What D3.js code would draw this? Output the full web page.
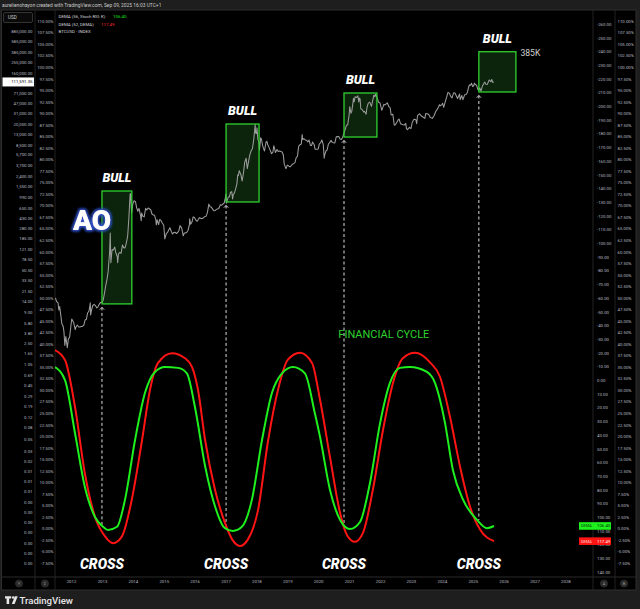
<!DOCTYPE html>
<html><head><meta charset="utf-8">
<script src="https://cdn.jsdelivr.net/npm/d3@7"></script>
<style>
html,body{margin:0;padding:0;background:#1e1e1e;}
svg{display:block;font-family:Roboto,"Liberation Sans",sans-serif;}
</style></head><body>
<svg id="c" width="640" height="609"></svg>
<script>
// ---------------- DATA ----------------
const btc = [
["2011-07-01",16.1],["2011-07-15",13.8],["2011-08-01",13.1],["2011-08-10",9.8],["2011-08-20",11.3],["2011-09-01",8.2],["2011-09-15",5.6],["2011-10-01",5.0],["2011-10-10",4.0],["2011-10-20",2.3],["2011-11-01",3.3],["2011-11-18",2.1],["2011-12-01",3.0],["2011-12-15",3.2],
["2012-01-01",5.3],["2012-01-10",6.8],["2012-02-01",5.9],["2012-02-20",4.4],["2012-03-01",4.9],["2012-03-15",5.3],["2012-04-01",4.9],["2012-04-15",4.9],["2012-05-01",5.0],["2012-05-15",5.0],["2012-06-01",5.3],["2012-06-15",6.5],["2012-07-01",6.7],["2012-07-15",8.7],["2012-08-01",9.4],["2012-08-16",13.2],["2012-08-20",8.0],["2012-09-01",10.1],["2012-09-15",11.8],["2012-10-01",12.4],["2012-10-15",11.8],["2012-11-01",10.7],["2012-11-15",11.2],["2012-12-01",12.5],["2012-12-15",13.4],
["2013-01-01",13.3],["2013-01-15",14.5],["2013-02-01",20],["2013-02-15",27],["2013-03-01",34],["2013-03-15",47],["2013-04-01",104],["2013-04-09",230],["2013-04-16",68],["2013-05-01",117],["2013-05-15",114],["2013-06-01",129],["2013-06-15",100],["2013-07-01",88],["2013-07-06",68],["2013-07-15",98],["2013-08-01",104],["2013-08-15",100],["2013-09-01",141],["2013-09-15",126],["2013-10-01",125],["2013-10-15",150],["2013-11-01",205],["2013-11-15",420],["2013-11-30",1130],["2013-12-05",1150],["2013-12-18",520],["2013-12-31",750],
["2014-01-15",860],["2014-02-01",830],["2014-02-15",650],["2014-03-01",560],["2014-03-15",630],["2014-04-01",480],["2014-04-10",380],["2014-04-15",520],["2014-05-01",450],["2014-05-15",445],["2014-06-01",630],["2014-06-15",590],["2014-07-01",640],["2014-07-15",620],["2014-08-01",590],["2014-08-15",500],["2014-09-01",480],["2014-09-15",475],["2014-10-01",385],["2014-10-05",320],["2014-10-15",395],["2014-11-01",325],["2014-11-15",400],["2014-12-01",380],["2014-12-15",345],
["2015-01-01",315],["2015-01-14",180],["2015-02-01",225],["2015-02-15",235],["2015-03-01",260],["2015-03-15",285],["2015-04-01",245],["2015-04-15",220],["2015-05-01",235],["2015-05-15",237],["2015-06-01",225],["2015-06-15",235],["2015-07-01",258],["2015-07-12",310],["2015-08-01",283],["2015-08-20",205],["2015-09-01",229],["2015-09-15",230],["2015-10-01",237],["2015-10-15",255],["2015-11-01",325],["2015-11-04",410],["2015-11-15",330],["2015-12-01",360],["2015-12-15",445],
["2016-01-01",430],["2016-01-15",390],["2016-02-01",372],["2016-02-15",405],["2016-03-01",432],["2016-03-15",415],["2016-04-01",417],["2016-04-15",430],["2016-05-01",450],["2016-05-15",455],["2016-06-01",535],["2016-06-17",750],["2016-07-01",675],["2016-07-15",665],["2016-08-01",610],["2016-08-15",570],["2016-09-01",575],["2016-09-15",608],["2016-10-01",615],["2016-10-15",640],["2016-11-01",730],["2016-11-15",715],["2016-12-01",755],["2016-12-15",780],
["2017-01-01",1000],["2017-01-05",1130],["2017-01-11",780],["2017-02-01",990],["2017-02-15",1010],["2017-03-01",1220],["2017-03-15",1250],["2017-03-25",930],["2017-04-01",1090],["2017-04-15",1180],["2017-05-01",1420],["2017-05-15",1720],["2017-05-25",2500],["2017-06-01",2400],["2017-06-12",2950],["2017-07-01",2500],["2017-07-16",1930],["2017-08-01",2730],["2017-08-15",4150],["2017-09-01",4900],["2017-09-15",3200],["2017-10-01",4400],["2017-10-15",5700],["2017-11-01",6750],["2017-11-15",7300],["2017-12-01",10900],["2017-12-17",19500],["2017-12-22",13800],
["2018-01-01",13500],["2018-01-07",17000],["2018-01-17",11000],["2018-02-01",9100],["2018-02-06",6900],["2018-02-20",11300],["2018-03-01",10800],["2018-03-15",8250],["2018-04-01",6900],["2018-04-06",6600],["2018-04-25",9600],["2018-05-05",9800],["2018-05-15",8500],["2018-06-01",7500],["2018-06-29",5900],["2018-07-15",6300],["2018-07-25",8200],["2018-08-01",7600],["2018-08-14",6200],["2018-09-01",7000],["2018-09-15",6500],["2018-10-01",6600],["2018-10-15",6450],["2018-11-01",6350],["2018-11-15",5600],["2018-11-25",3900],["2018-12-15",3200],
["2019-01-01",3700],["2019-01-15",3600],["2019-02-01",3450],["2019-02-15",3600],["2019-03-01",3830],["2019-03-15",3930],["2019-04-01",4100],["2019-04-15",5000],["2019-05-01",5350],["2019-05-15",8000],["2019-06-01",8550],["2019-06-15",8800],["2019-06-26",12900],["2019-07-01",10500],["2019-07-15",11000],["2019-08-01",10400],["2019-08-15",10300],["2019-09-01",9600],["2019-09-15",10300],["2019-10-01",8300],["2019-10-15",8300],["2019-10-26",9550],["2019-11-15",8500],["2019-11-25",7100],["2019-12-15",7100],
["2020-01-01",7200],["2020-01-15",8800],["2020-02-01",9400],["2020-02-13",10350],["2020-03-01",8600],["2020-03-12",4900],["2020-03-15",5400],["2020-04-01",6600],["2020-04-15",6850],["2020-05-01",8800],["2020-05-15",9300],["2020-06-01",10200],["2020-06-15",9400],["2020-07-01",9230],["2020-07-15",9150],["2020-08-01",11800],["2020-08-15",11900],["2020-09-01",11900],["2020-09-15",10800],["2020-10-01",10600],["2020-10-15",11500],["2020-11-01",13800],["2020-11-15",16000],["2020-12-01",19000],["2020-12-15",19400],
["2021-01-01",29000],["2021-01-08",40500],["2021-01-22",31000],["2021-02-01",33500],["2021-02-15",48000],["2021-02-21",57000],["2021-03-01",49500],["2021-03-13",61000],["2021-04-01",59000],["2021-04-14",63500],["2021-04-25",49000],["2021-05-01",57800],["2021-05-10",56000],["2021-05-19",37000],["2021-06-01",36500],["2021-06-22",32500],["2021-07-01",33500],["2021-07-20",29800],["2021-08-01",40000],["2021-08-15",47000],["2021-09-01",48800],["2021-09-21",41000],["2021-10-01",48000],["2021-10-20",65000],["2021-11-01",61000],["2021-11-10",67500],["2021-12-01",57000],["2021-12-15",48500],
["2022-01-01",47000],["2022-01-22",35000],["2022-02-01",38500],["2022-02-15",44500],["2022-03-01",43500],["2022-03-28",47500],["2022-04-15",40500],["2022-05-01",38500],["2022-05-12",28800],["2022-06-01",29800],["2022-06-18",19000],["2022-07-01",19300],["2022-07-15",21000],["2022-08-01",23300],["2022-08-14",24500],["2022-09-01",20100],["2022-09-15",19700],["2022-10-01",19300],["2022-10-15",19100],["2022-11-01",20500],["2022-11-09",16500],["2022-11-21",15800],["2022-12-15",17400],
["2023-01-01",16550],["2023-01-15",20900],["2023-02-01",23700],["2023-02-15",24300],["2023-03-01",23600],["2023-03-10",20200],["2023-03-20",28000],["2023-04-14",30400],["2023-05-01",28000],["2023-05-15",27100],["2023-06-15",25100],["2023-06-25",30500],["2023-07-15",30300],["2023-08-01",29200],["2023-08-18",26100],["2023-09-11",25100],["2023-10-01",27900],["2023-10-24",34000],["2023-11-15",37800],["2023-12-05",44000],["2023-12-15",42000],
["2024-01-01",44200],["2024-01-11",46600],["2024-01-23",39500],["2024-02-15",51800],["2024-03-01",62000],["2024-03-14",73000],["2024-04-01",69700],["2024-04-17",61300],["2024-05-01",58000],["2024-05-20",71400],["2024-06-05",71000],["2024-07-05",56500],["2024-07-29",68200],["2024-08-05",54000],["2024-08-24",64100],["2024-09-06",53900],["2024-09-27",65800],["2024-10-15",67000],["2024-10-29",72300],["2024-11-13",90000],["2024-11-22",98500],["2024-12-05",98000],["2024-12-17",106000],["2024-12-30",92600],
["2025-01-10",94500],["2025-01-21",106000],["2025-02-01",100500],["2025-02-15",97500],["2025-02-28",84300],["2025-03-10",78500],["2025-03-25",87500],["2025-04-08",76500],["2025-04-25",94500],["2025-05-22",111000],["2025-06-05",101500],["2025-06-22",100900],["2025-07-14",121000],["2025-08-03",112500],["2025-08-13",123500],["2025-08-25",110000],["2025-09-09",111591.35]
];

// DEMA (56, Stoch RSI; K)  – green
const demaStoch = [
["2011-06-25",-9.6],["2011-10-22",0],["2012-02-17",38.5],["2012-06-13",78],["2012-10-12",100],["2013-01-14",107],["2013-03-13",109.3],["2013-06-28",107],["2013-10-01",87],
["2014-01-26",44],["2014-05-24",9.4],["2014-09-20",-6],["2015-01-16",-9.6],["2015-06-18",-9],["2015-10-02",-5],["2016-01-05",19.6],["2016-05-05",63],["2016-08-29",92],["2016-12-24",108],
["2017-03-29",110],["2017-07-13",107],["2017-11-09",87],["2018-03-07",44],["2018-07-03",9.4],["2018-10-30",-5],["2019-03-08",-9.6],["2019-07-28",-5],["2019-11-22",24],
["2020-01-23",41.5],["2020-05-19",80],["2020-09-16",102],["2021-01-11",108.6],["2021-05-09",103.5],["2021-09-04",75],["2022-01-01",31.5],["2022-04-28",2],["2022-08-24",-9],["2022-12-20",-9.6],
["2023-07-09",-6],["2023-10-12",2],["2024-02-07",31],["2024-05-11",65.5],["2024-09-07",87],["2025-02-20",102],["2025-06-17",108],["2025-09-09",106.4]
];
// DEMA (52, DEMA) – red
const demaDema = [
["2011-06-25",-22],["2011-10-22",-14.7],["2012-02-17",19.4],["2012-06-13",68],["2012-10-12",100],["2013-02-06",114],["2013-05-12",119],["2013-08-25",114],["2013-12-20",87],
["2014-04-19",44],["2014-07-23",7],["2014-10-26",-12.6],["2015-04-09",-19.7],["2015-09-09",-16],["2015-12-02",-9.6],["2016-02-10",7],["2016-05-05",44],["2016-08-29",80],["2016-12-24",104],
["2017-03-18",116],["2017-06-21",121],["2017-09-24",116],["2018-01-19",95],["2018-05-19",44],["2018-09-13",7],["2019-01-08",-15],["2019-05-30",-20],["2019-10-20",-12.6],
["2020-01-23",14.5],["2020-05-19",56],["2020-09-16",97],["2020-12-05",113],["2021-03-10",118],["2021-06-13",111.5],["2021-10-08",80],["2022-02-06",36],["2022-06-03",2],["2022-09-27",-16],
["2023-02-17",-20],["2023-08-15",-13],["2023-12-10",-2.5],["2024-04-08",27],["2024-08-03",63],["2024-11-28",92],["2025-03-28",109],["2025-09-09",117.49]
];

// Bull boxes (dates & price bounds) and the cross levels of the oscillators
const bullStart = ["2013-01-01","2017-01-07","2020-11-01","2025-03-14"];
const bullEnd   = ["2013-12-20","2018-02-01","2021-11-25","2026-05-26"];
const bullLow   = [12.6, 819, 11700, 74000];
const bullHigh  = [1283, 19950, 71000, 385000];
const crossLevel = [106, 107, 106, 102];

// Tick labels
const priceTickValues = [885000,585000,385000,255000,160000,71000,47000,31000,20000,13000,8500,5700,3700,2400,1550,990,650,430,280,185,121,78.5,50.5,33.5,21.5,14,9,5.8,3.8,2.5,1.65,1.05,0.69,0.45,0.29,0.19,0.12,0.08,0.05,0.03,0.02,0.0135,0.0089,0.0058,0.0038,0.0025,0.00165,0.00108,0.00071,0.00047,0.00031];
const pctTicks = d3.range(110, -7.6, -2.5);
const oscTicks = d3.range(-260, 141, 10);
const yearTicks = d3.range(2012, 2029);

const lastPrice = 111591.35;
const lastStoch = 106.40, lastDema = 117.49;

// ---------------- LAYOUT ----------------
const W = 640, H = 609;
const P = {top:10, bottom:590, axisRow:577, l1:35, l2:55, r1:593, r2:615, right:636};
const parse = d3.timeParse("%Y-%m-%d");
const svg = d3.select("#c");

const x = d3.scaleTime().domain([new Date(2012,0,1), new Date(2028,0,1)]).range([71, 565.4]);
const yPrice = d3.scaleLog().domain([71000, 0.29]).range([93, 396]);
const yOsc = d3.scaleLinear().domain([-260, 140]).range([24, 572]);
const yPct = d3.scaleLinear().domain([-7.5, 110]).range([563, 21]);

const defs = svg.append("defs");
defs.append("clipPath").attr("id","clip").append("rect")
  .attr("x",P.l2).attr("y",P.top).attr("width",P.r1-P.l2).attr("height",P.axisRow-P.top);
const glow = defs.append("filter").attr("id","glow").attr("x","-50%").attr("y","-50%").attr("width","200%").attr("height","200%");
glow.append("feMorphology").attr("in","SourceAlpha").attr("operator","dilate").attr("radius",1.2).attr("result","d");
glow.append("feGaussianBlur").attr("in","d").attr("stdDeviation",1.8).attr("result","b");
glow.append("feFlood").attr("flood-color","#2f4fc0");
glow.append("feComposite").attr("in2","b").attr("operator","in").attr("result","g");
const fm = glow.append("feMerge");
fm.append("feMergeNode").attr("in","g");
fm.append("feMergeNode").attr("in","g");
fm.append("feMergeNode").attr("in","SourceGraphic");

// background + panel
svg.append("rect").attr("width",W).attr("height",H).attr("fill","#1e1e1e");
svg.append("rect").attr("x",1.5).attr("y",P.top).attr("width",P.right-1.5).attr("height",P.bottom-P.top)
  .attr("fill","#000").attr("stroke","#2e2e2e").attr("stroke-width",1);
[P.l1, P.l2, P.r1, P.r2].forEach(v => svg.append("line").attr("x1",v).attr("x2",v)
  .attr("y1",P.top).attr("y2",P.bottom).attr("stroke","#222"));
svg.append("line").attr("x1",1.5).attr("x2",P.right).attr("y1",P.axisRow).attr("y2",P.axisRow).attr("stroke","#2a2a2a");

// header
svg.append("text").attr("x",2).attr("y",6.8).attr("font-size",4.9).attr("fill","#c9c9c9")
  .text("aurelienohayon created with TradingView.com, Sep 09, 2025 16:03 UTC+1");

const axisColor = "#b8bbc3", fs = 4.3;
function styleAxis(g){ g.select(".domain").remove(); g.selectAll("text").attr("font-size",fs).attr("fill",axisColor).attr("font-family","Roboto,sans-serif"); }

// left price axis
const fmtPrice = d => d.toLocaleString("en-US",{minimumFractionDigits:2, maximumFractionDigits:2});
svg.append("g").attr("transform",`translate(32.5,0)`)
  .call(d3.axisLeft(yPrice).tickValues(priceTickValues).tickFormat(fmtPrice).tickSize(0).tickPadding(0))
  .call(styleAxis);
// left percent axis
svg.append("g").attr("transform",`translate(53.5,0)`)
  .call(d3.axisLeft(yPct).tickValues(pctTicks).tickFormat(d => d.toFixed(2)+"%").tickSize(0).tickPadding(0))
  .call(styleAxis);
// right oscillator axis
svg.append("g").attr("transform",`translate(597,0)`)
  .call(d3.axisRight(yOsc).tickValues(oscTicks).tickFormat(d => d.toFixed(2)).tickSize(0).tickPadding(0))
  .call(styleAxis);
// right percent axis
svg.append("g").attr("transform",`translate(617.5,0)`)
  .call(d3.axisRight(yPct).tickValues(pctTicks).tickFormat(d => d.toFixed(2)+"%").tickSize(0).tickPadding(0))
  .call(styleAxis);
// x axis
svg.append("g").attr("transform",`translate(0,${P.axisRow+2.5})`)
  .call(d3.axisBottom(x).tickValues(yearTicks.map(y => new Date(y,0,1))).tickFormat(d3.timeFormat("%Y")).tickSize(0).tickPadding(0))
  .call(styleAxis);

// USD box
svg.append("rect").attr("x",3.5).attr("y",12.5).attr("width",29).attr("height",10).attr("rx",1.5)
  .attr("fill","#0a0a0a").attr("stroke","#333");
svg.append("text").attr("x",8).attr("y",19.2).attr("font-size",4.6).attr("fill","#d0d0d0").text("USD");

// bottom icons
[[19,"Y"],[45,"Σ"],[604,"A"],[624,"B"]].forEach(([cx,t]) => {
  svg.append("circle").attr("cx",cx).attr("cy",583.5).attr("r",3.6).attr("fill","#2a2a2a").attr("stroke","#3a3a3a").attr("stroke-width",0.5);
  svg.append("text").attr("x",cx).attr("y",585).attr("font-size",4).attr("text-anchor","middle").attr("fill","#9a9a9a").text(t);
});

// ---------------- CHART ----------------
const plot = svg.append("g").attr("clip-path","url(#clip)");
const priceData = btc.map(d => ({date: parse(d[0]), v: d[1]}));
const boxes = bullStart.map((s,i) => ({s: parse(s), e: parse(bullEnd[i]), lo: bullLow[i], hi: bullHigh[i], cross: crossLevel[i]}));

// box fills
plot.selectAll("rect.boxfill").data(boxes).join("rect").attr("class","boxfill")
  .attr("x", d => x(d.s)).attr("width", d => x(d.e)-x(d.s))
  .attr("y", d => yPrice(d.hi)).attr("height", d => yPrice(d.lo)-yPrice(d.hi))
  .attr("fill","#0d2a0d").attr("opacity",0.85);

// price line
plot.append("path").datum(priceData)
  .attr("d", d3.line().x(d => x(d.date)).y(d => yPrice(d.v)))
  .attr("fill","none").attr("stroke","#9c9c9c").attr("stroke-width",1.05).attr("stroke-linejoin","round");

// box strokes
plot.selectAll("rect.boxline").data(boxes).join("rect").attr("class","boxline")
  .attr("x", d => x(d.s)).attr("width", d => x(d.e)-x(d.s))
  .attr("y", d => yPrice(d.hi)).attr("height", d => yPrice(d.lo)-yPrice(d.hi))
  .attr("fill","none").attr("stroke","#2fd22f").attr("stroke-width",1.3);

// dashed verticals with arrow heads
boxes.forEach(d => {
  const xx = x(d.s), y0 = yPrice(d.lo) + 3.5, y1 = yOsc(d.cross);
  plot.append("line").attr("x1",xx).attr("x2",xx).attr("y1",y0).attr("y2",y1)
    .attr("stroke","#dcdcdc").attr("stroke-width",1).attr("stroke-dasharray","3,2.5");
  plot.append("path").attr("d",`M${xx-2.2},${y0+2.2}L${xx},${y0}L${xx+2.2},${y0+2.2}`)
    .attr("fill","none").attr("stroke","#e0e0e0").attr("stroke-width",0.9);
});

// oscillators
const oscLine = d3.line().x(d => x(parse(d[0]))).y(d => yOsc(d[1])).curve(d3.curveMonotoneX);
plot.append("path").datum(demaDema).attr("d",oscLine).attr("fill","none").attr("stroke","#ff1414").attr("stroke-width",2);
plot.append("path").datum(demaStoch).attr("d",oscLine).attr("fill","none").attr("stroke","#1ef01e").attr("stroke-width",2);

// annotations
const bold = sel => sel.attr("font-family","Roboto,'Open Sans',sans-serif").attr("font-weight",900).attr("font-style","italic").attr("fill","#fff").attr("text-anchor","middle");
svg.selectAll("text.bull").data(boxes).join("text").attr("class","bull")
  .attr("x", d => (x(d.s)+x(d.e))/2).attr("y", d => yPrice(d.hi)-9)
  .attr("font-size",12.5).call(bold).text("BULL");
svg.selectAll("text.cross").data(boxes).join("text").attr("class","cross")
  .attr("x", d => x(d.s)).attr("y", 568.5)
  .attr("font-size",14).call(bold).text("CROSS");

svg.append("text").attr("x", x(boxes[3].e)+4.5).attr("y", yPrice(bullHigh[3])+4)
  .attr("font-size",8.6).attr("fill","#d0d0d0").text("385K");

svg.append("text").attr("x", x(new Date(2022,1,15))).attr("y", yOsc(-33.7)+3.8)
  .attr("font-size",11).attr("fill","#2fd22f").attr("text-anchor","middle").text("FINANCIAL CYCLE");

svg.append("text").attr("x",92).attr("y",230).attr("font-size",28).attr("font-weight",900)
  .attr("font-family","Roboto,sans-serif").attr("fill","#fff").attr("text-anchor","middle")
  .attr("filter","url(#glow)").text("AO");

// legend
const lg = svg.append("g").attr("font-size",4.4).attr("fill","#d1d4dc");
lg.append("text").attr("x",58.5).attr("y",18).text("DEMA (56, Stoch RSI; K)");
lg.append("text").attr("x",113).attr("y",18).attr("fill","#1ee01e").text(lastStoch.toFixed(2));
lg.append("text").attr("x",58.5).attr("y",25.7).text("DEMA (52, DEMA)");
lg.append("text").attr("x",101).attr("y",25.7).attr("fill","#ff2a2a").text(lastDema.toFixed(2));
lg.append("text").attr("x",58.5).attr("y",32.8).text("BTCUSD · INDEX");

// last price tag (left)
svg.append("rect").attr("x",2.5).attr("y",yPrice(lastPrice)-4.5).attr("width",31.5).attr("height",9).attr("fill","#fff");
svg.append("text").attr("x",32.5).attr("y",yPrice(lastPrice)+1.5).attr("font-size",fs).attr("text-anchor","end").attr("fill","#000").text(fmtPrice(lastPrice));

// oscillator tags (right)
[[lastStoch,"#1ef01e","#0b3a0b"],[lastDema,"#ff1414","#ffd0d0"]].forEach(([v,c,tc]) => {
  const yy = yOsc(v);
  svg.append("rect").attr("x",579).attr("y",yy-3.8).attr("width",32).attr("height",7.6).attr("fill",c);
  svg.append("text").attr("x",581).attr("y",yy+1.4).attr("font-size",3.9).attr("fill",tc).text("DEMA");
  svg.append("text").attr("x",597).attr("y",yy+1.4).attr("font-size",fs).attr("fill",v===lastStoch?"#062806":"#fff").text(v.toFixed(2));
});

// footer logo
const logo = svg.append("g").attr("fill","#e6e6e6");
logo.append("path").attr("d","M5,596.2h6.2v2.4h-2v5.4h-2.6v-5.4h-1.6z");
logo.append("circle").attr("cx",13.2).attr("cy",597.5).attr("r",1.3);
logo.append("path").attr("d","M14.9,596.2h2.8l-3.1,7.8h-2.8z");
svg.append("text").attr("x",19.5).attr("y",603.8).attr("font-size",9.6).attr("font-weight",500).attr("fill","#e6e6e6").text("TradingView");
</script>
</body></html>
